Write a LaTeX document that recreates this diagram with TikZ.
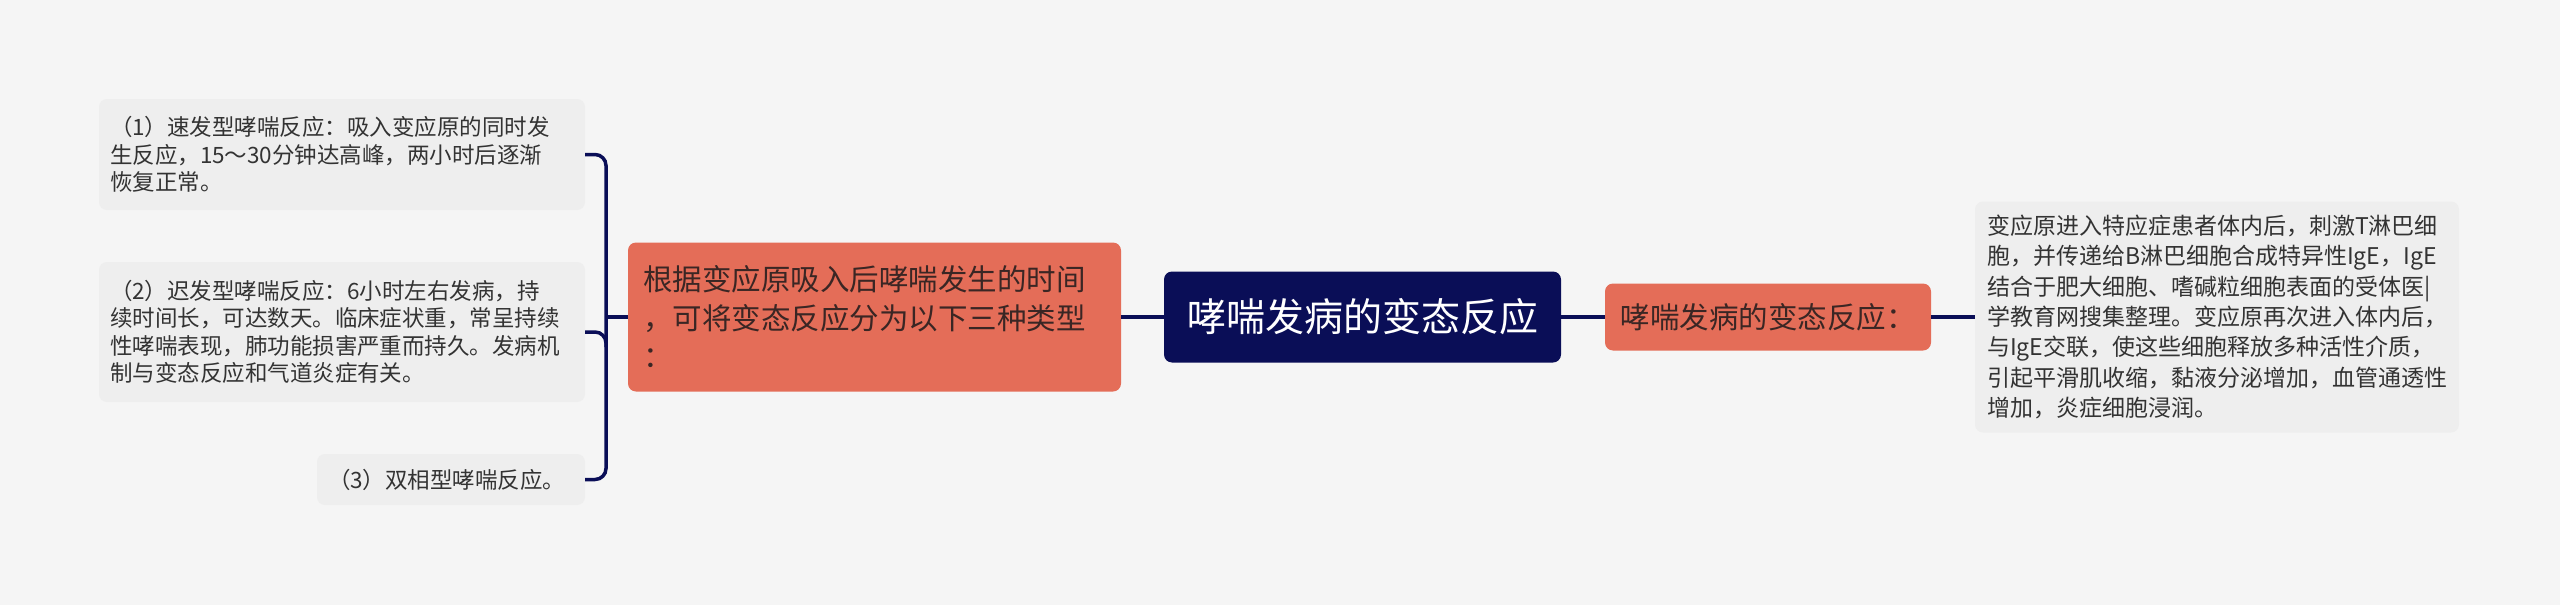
\documentclass[tikz,border=0pt]{standalone}
\usepackage{fontspec}
\setmainfont{Noto Sans CJK SC}
\newfontfamily\cjk{Noto Sans CJK SC}
\definecolor{bg}{HTML}{F5F5F5}
\definecolor{navy}{HTML}{0A0E57}
\definecolor{coral}{HTML}{E46D58}
\definecolor{leafbg}{HTML}{EEEEEE}
\definecolor{leaftext}{HTML}{333333}
\definecolor{darktext}{HTML}{3A2624}
\tikzset{
  leaf/.style={fill=leafbg, rounded corners=8pt, inner xsep=11pt, inner ysep=0pt,
    align=left, text=leaftext, font=\cjk\fontsize{22.5}{27.5}\selectfont},
  branch/.style={fill=coral, rounded corners=8pt, inner xsep=15pt, inner ysep=0pt,
    text=darktext, font=\cjk\fontsize{29.5}{38.5}\selectfont},
  rootbox/.style={fill=navy, rounded corners=8pt, inner sep=0pt, text=white,
    font=\cjk\fontsize{39}{46}\selectfont},
  link/.style={draw=navy, line width=3.5pt},
}
\begin{document}
\begin{tikzpicture}[x=1pt,y=-1pt]
\fill[bg] (0,0) rectangle (2560,605);
\useasboundingbox (0,0) rectangle (2560,605);

\node[rootbox, minimum width=397pt, minimum height=91pt] (root) at (1362.5,317) {哮喘发病的变态反应};

\node[branch, align=left, text width=463pt, minimum height=149pt] (mid) at (874.5,317)
  {根据变应原吸入后哮喘发生的时间\\，可将变态反应分为以下三种类型\\：};

\node[branch, minimum width=326pt, minimum height=67pt] (rnode) at (1768,317) {哮喘发病的变态反应：};

\node[leaf, text width=464pt, minimum height=111pt] (l1) at (342,154.5)
  {（1）速发型哮喘反应：吸入变应原的同时发\\生反应，15～30分钟达高峰，两小时后逐渐\\恢复正常。};
\node[leaf, text width=464pt, minimum height=140pt] (l2) at (342,332)
  {（2）迟发型哮喘反应：6小时左右发病，持\\续时间长，可达数天。临床症状重，常呈持续\\性哮喘表现，肺功能损害严重而持久。发病机\\制与变态反应和气道炎症有关。};
\node[leaf, text width=246pt, minimum height=51pt] (l3) at (451,479.5)
  {（3）双相型哮喘反应。};

\node[leaf, text width=460pt, inner xsep=12pt, minimum height=231pt,
  font=\cjk\fontsize{23}{30.4}\selectfont] (rl) at (2217,317)
  {变应原进入特应症患者体内后，刺激T淋巴细\\胞，并传递给B淋巴细胞合成特异性IgE，IgE\\结合于肥大细胞、嗜碱粒细胞表面的受体医|\\学教育网搜集整理。变应原再次进入体内后，\\与IgE交联，使这些细胞释放多种活性介质，\\引起平滑肌收缩，黏液分泌增加，血管通透性\\增加，炎症细胞浸润。};

\coordinate (bj) at (606,317);
\draw[link] (root.west) -- (mid.east);
\draw[link] (root.east) -- (rnode.west);
\draw[link] (rnode.east) -- (rl.west);
\draw[link] (mid.west) -- (bj);
\draw[link, rounded corners=11pt] (l1.east) -| (bj) |- (l3.east);
\draw[link, rounded corners=11pt] (l2.east) -| ([yshift=-30pt]bj);
\end{tikzpicture}
\end{document}
